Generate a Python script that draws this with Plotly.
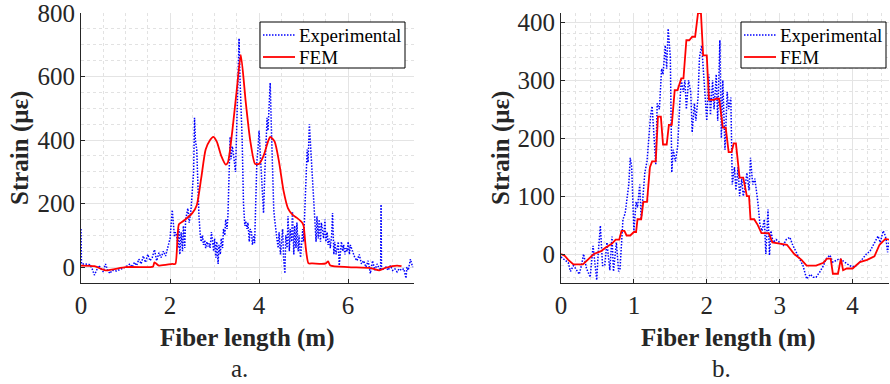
import plotly.graph_objects as go

# ---------------- Panel a ----------------
exp_a_x = [0.00, 0.01, 0.10, 0.20, 0.25, 0.30, 0.35, 0.40, 0.45, 0.50, 0.55, 0.60, 0.65, 0.70, 0.80, 0.90,
           1.00, 1.10, 1.15, 1.20, 1.25, 1.30, 1.35, 1.40, 1.45, 1.50, 1.55, 1.60, 1.65, 1.70, 1.75, 1.80,
           1.85, 1.90, 1.95, 2.00, 2.05, 2.08, 2.10, 2.12, 2.15, 2.18, 2.20, 2.22, 2.25, 2.28, 2.30, 2.33,
           2.35, 2.40, 2.43, 2.47, 2.50, 2.53, 2.55, 2.57, 2.60, 2.62, 2.65, 2.68, 2.70, 2.73, 2.75, 2.78,
           2.80, 2.83, 2.85, 2.88, 2.90, 2.93, 2.95, 2.98, 3.00, 3.03, 3.05, 3.08, 3.10, 3.13, 3.15, 3.18,
           3.20, 3.23, 3.25, 3.28, 3.30, 3.33, 3.35, 3.37, 3.40, 3.43, 3.45, 3.47, 3.50, 3.53, 3.55, 3.57,
           3.60, 3.62, 3.65, 3.68, 3.70, 3.73, 3.75, 3.78, 3.80, 3.83, 3.85, 3.88, 3.90, 3.93, 3.95, 3.98,
           4.00, 4.03, 4.05, 4.08, 4.10, 4.13, 4.15, 4.18, 4.20, 4.23, 4.25, 4.28, 4.30, 4.33, 4.35, 4.38,
           4.40, 4.43, 4.45, 4.48, 4.50, 4.53, 4.55, 4.58, 4.60, 4.63, 4.65, 4.68, 4.70, 4.73, 4.75, 4.78,
           4.80, 4.83, 4.85, 4.88, 4.90, 4.93, 4.95, 4.98, 5.00, 5.03, 5.05, 5.08, 5.10, 5.13, 5.15, 5.18,
           5.20, 5.23, 5.25, 5.28, 5.30, 5.33, 5.35, 5.38, 5.40, 5.43, 5.45, 5.48, 5.50, 5.53, 5.55, 5.58,
           5.60, 5.63, 5.65, 5.68, 5.70, 5.73, 5.75, 5.78, 5.80, 5.83, 5.85, 5.88, 5.90, 5.93, 5.95, 5.98,
           6.00, 6.03, 6.05, 6.10, 6.15, 6.20, 6.25, 6.30, 6.35, 6.40, 6.45, 6.50, 6.55, 6.60, 6.65, 6.70,
           6.73, 6.74, 6.75, 6.80, 6.85, 6.90, 6.95, 7.00, 7.05, 7.10, 7.15, 7.20, 7.25, 7.30, 7.32, 7.35,
           7.40, 7.45]
exp_a_y = [120, 10, 10, 8, -5, -25, -10, 5, -5, -15, 10, -10, -20, -10, -12, -5,
           0, 10, 0, 15, 5, 25, 10, 35, 15, 40, 20, 30, 55, 20, 45, 30,
           50, 35, 65, 90, 180, 120, 95, 110, 100, 60, 120, 40, 110, 50, 130, 60,
           150, 185, 140, 180, 240, 300, 470, 400, 370, 280, 160, 100, 80, 100, 70, 85,
           60, 80, 65, 75, 60, 110, 80, 50, 90, 30, 80, 10, 70, 40, 90, 60,
           120, 100, 150, 120, 160, 300, 410, 340, 380, 350, 330, 300, 450, 650, 720, 600,
           500, 400, 200, 130, 145, 120, 140, 80, 120, 110, 70, 100, 75, 250, 330, 380,
           430, 350, 300, 200, 170, 300, 400, 470, 430, 550, 580, 420, 300, 180, 150, 100,
           90, 60, 110, 40, 80, 120, 30, -20, 100, 60, 160, 50, 120, 80, 175, 40,
           130, 60, 140, 50, 100, 30, 60, 120, 80, 200, 280, 370, 330, 450, 400, 320,
           250, 200, 120, 80, 160, 90, 150, 80, 140, 100, 90, 150, 80, 110, 70, 90,
           60, 100, 170, 40, 80, 40, 60, 80, 5, 60, 80, 50, 70, 40, 60, 50,
           80, 40, 70, 50, 30, 20, 40, 10, 20, 0, 20, -20, 20, -10, 10, -5,
           -10, 197, -10, -5, 0, -10, 5, -10, -5, -15, -5, -10, -5, -35, 0, -10,
           25, 0]

fem_a_x = [0.00, 0.30, 0.55, 1.00, 1.55, 1.62, 1.65, 1.75, 2.05, 2.12, 2.20, 2.30, 2.50, 2.60, 2.70, 2.80,
           2.90, 2.97, 3.05, 3.15, 3.25, 3.30, 3.40, 3.50, 3.59, 3.70, 3.80, 3.91, 4.00, 4.10, 4.20, 4.25,
           4.35, 4.45, 4.55, 4.65, 4.75, 4.85, 4.97, 5.00, 5.05, 5.11, 5.20, 5.40, 5.50, 5.55, 5.60, 6.00,
           6.50, 6.70, 6.85, 7.10, 7.20]
fem_a_y = [5, 3, -10, 0, 0, 2, 15, 5, 10, 10, 135, 145, 170, 195, 280, 370,
           400, 410, 395, 350, 323, 330, 430, 560, 668, 520, 400, 325, 325, 350, 395, 410,
           395, 330, 240, 185, 165, 155, 140, 130, 60, 12, 12, 10, 12, 18, 5, 0,
           -3, -10, -2, 5, 3]

# ---------------- Panel b ----------------
exp_b_x = [0.00, 0.05, 0.10, 0.13, 0.17, 0.20, 0.25, 0.28, 0.31, 0.35, 0.40, 0.44, 0.46, 0.49, 0.51, 0.54,
           0.57, 0.60, 0.63, 0.67, 0.70, 0.72, 0.76, 0.79, 0.81, 0.83, 0.85, 0.88, 0.90, 0.93, 0.95, 0.97,
           1.00, 1.03, 1.05, 1.08, 1.10, 1.13, 1.15, 1.18, 1.20, 1.23, 1.25, 1.28, 1.30, 1.32, 1.35, 1.38,
           1.40, 1.43, 1.45, 1.47, 1.50, 1.52, 1.54, 1.57, 1.60, 1.63, 1.65, 1.68, 1.70, 1.72, 1.75, 1.78,
           1.80, 1.83, 1.85, 1.88, 1.90, 1.93, 1.95, 1.98, 2.00, 2.03, 2.05, 2.08, 2.10, 2.13, 2.15, 2.18,
           2.20, 2.22, 2.25, 2.28, 2.30, 2.33, 2.35, 2.38, 2.40, 2.43, 2.45, 2.48, 2.50, 2.52, 2.55, 2.58,
           2.60, 2.63, 2.66, 2.70, 2.73, 2.76, 2.79, 2.81, 2.84, 2.86, 2.88, 2.91, 2.95, 3.00, 3.05, 3.09,
           3.14, 3.18, 3.23, 3.28, 3.32, 3.37, 3.42, 3.46, 3.50, 3.55, 3.60, 3.64, 3.69, 3.73, 3.78, 3.82,
           3.87, 3.91, 3.96, 4.00, 4.05, 4.10, 4.15, 4.19, 4.24, 4.28, 4.32, 4.35, 4.38, 4.42, 4.44, 4.46,
           4.48, 4.50]
exp_b_y = [-5, -10, -15, -30, -20, -25, -35, -20, 0, -25, -40, 14, -10, -45, 0, 49,
           -20, -20, 20, -28, 30, -30, 20, -30, -25, 30, 60, 70, 90, 120, 166, 150,
           40, 90, 80, 120, 60, 100, 140, 160, 200, 240, 255, 180, 155, 260, 250, 320,
           310, 360, 320, 389, 340, 141, 180, 160, 185, 260, 300, 280, 300, 250, 300, 280,
           210, 260, 230, 270, 340, 360, 320, 280, 230, 310, 240, 300, 250, 310, 230, 369,
           200, 300, 180, 280, 250, 270, 120, 150, 110, 150, 100, 130, 100, 110, 140, 110,
           166, 120, 130, 90, 50, 40, 60, 0, 77, -2, 40, 20, 25, 20, 15, 25,
           29, 15, 3, -10, -20, -43, -35, -40, -40, -31, -20, -8, -2, -14, -10, -8,
           -12, -16, -20, -22, -20, -14, -5, 0, 5, 14, 25, 31, 20, 40, 35, 26,
           3, 20]

fem_b_x = [0.00, 0.05, 0.10, 0.17, 0.30, 0.35, 0.42, 0.45, 0.55, 0.60, 0.70, 0.75, 0.80, 0.83, 0.87, 0.90,
           0.95, 1.00, 1.03, 1.05, 1.10, 1.13, 1.18, 1.20, 1.22, 1.25, 1.30, 1.33, 1.37, 1.40, 1.45, 1.48,
           1.52, 1.56, 1.60, 1.65, 1.68, 1.72, 1.76, 1.80, 1.84, 1.88, 1.92, 1.95, 2.00, 2.03, 2.10, 2.13,
           2.17, 2.22, 2.26, 2.30, 2.34, 2.37, 2.40, 2.45, 2.50, 2.55, 2.58, 2.60, 2.65, 2.70, 2.75, 2.85,
           2.90, 3.00, 3.10, 3.20, 3.30, 3.37, 3.50, 3.60, 3.65, 3.70, 3.73, 3.80, 3.84, 3.87, 3.92, 4.00,
           4.10, 4.20, 4.30, 4.37, 4.45, 4.50]
fem_b_y = [0, -3, -10, -18, -18, -12, -5, 0, 5, 10, 18, 25, 25, 40, 40, 32,
           32, 38, 38, 60, 60, 90, 90, 120, 150, 160, 160, 237, 237, 189, 189, 223,
           223, 283, 283, 303, 303, 369, 369, 375, 375, 416, 416, 343, 343, 266, 266, 268,
           268, 218, 218, 176, 176, 191, 191, 132, 132, 100, 100, 60, 60, 50, 36, 36,
           20, 18, 16, 0, -10, -20, -20, -15, -8, -8, -34, -34, -8, -28, -25, -25,
           -14, -10, -4, 16, 26, 25]

series_names = ["Experimental", "FEM"]

BLUE = "#0000FF"
RED = "#FF0000"
DARK = "#262626"
SERIF = "Liberation Serif"
DOT = "1.5px,1.5px"
W, H = 890, 384

fig = go.Figure()
fig.add_trace(go.Scatter(x=exp_a_x, y=exp_a_y, mode="lines", name=series_names[0],
                         line=dict(color=BLUE, width=1.5, dash=DOT), xaxis="x", yaxis="y"))
fig.add_trace(go.Scatter(x=fem_a_x, y=fem_a_y, mode="lines", name=series_names[1], line_shape="spline",
                         line=dict(color=RED, width=1.8, smoothing=0.6), xaxis="x", yaxis="y"))
fig.add_trace(go.Scatter(x=exp_b_x, y=exp_b_y, mode="lines", name=series_names[0],
                         line=dict(color=BLUE, width=1.5, dash=DOT), xaxis="x2", yaxis="y2"))
fig.add_trace(go.Scatter(x=fem_b_x, y=fem_b_y, mode="lines", name=series_names[1],
                         line=dict(color=RED, width=1.8), xaxis="x2", yaxis="y2"))

def axis(domain, rng, dtick, minor_dtick, anchor):
    return dict(domain=domain, range=rng, dtick=dtick, tick0=0, anchor=anchor, automargin=False,
                ticklabeloverflow="allow",
                showline=True, linecolor=DARK, linewidth=1.2, mirror=False,
                ticks="inside", ticklen=4, tickcolor=DARK,
                showgrid=True, gridcolor="#E4E4E4", gridwidth=1,
                zeroline=False,
                minor=dict(dtick=minor_dtick, tick0=0, showgrid=True, gridcolor="#E2E2E2",
                           griddash="dot", gridwidth=1, ticks=""),
                tickfont=dict(family=SERIF, size=25, color=DARK))

ydom = [1 - 283 / H, 1 - 13 / H]
fig.update_layout(
    width=W, height=H,
    margin=dict(l=0, r=0, t=0, b=0),
    paper_bgcolor="white", plot_bgcolor="white",
    xaxis=axis([81 / W, 414 / W], [0, 7.48], 2, 0.5, "y"),
    yaxis=axis(ydom, [-50, 800], 200, 50, "x"),
    xaxis2=axis([561 / W, 889 / W], [0, 4.5], 1, 0.2, "y2"),
    yaxis2=axis(ydom, [-50, 416], 100, 20, "x2"),
    showlegend=False,
)

# Legend boxes (drawn to match MATLAB legend geometry)
shapes = []
ann = []
for lx in (260, 741):
    shapes.append(dict(type="rect", xref="paper", yref="paper",
                       x0=lx / W, x1=(lx + 145) / W, y0=1 - 68 / H, y1=1 - 22 / H,
                       line=dict(color="#000000", width=1), fillcolor="white", layer="above"))
    for name, yy, col, dash in ((series_names[0], 35, BLUE, DOT), (series_names[1], 57, RED, "solid")):
        shapes.append(dict(type="line", xref="paper", yref="paper",
                           x0=(lx + 3) / W, x1=(lx + 35) / W, y0=1 - yy / H, y1=1 - yy / H,
                           line=dict(color=col, width=1.5 if dash == DOT else 1.8, dash=dash), layer="above"))
        ann.append(dict(text=name, x=(lx + 37) / W, y=1 - yy / H, xref="paper", yref="paper",
                        showarrow=False, xanchor="left", yanchor="middle",
                        font=dict(family=SERIF, size=19, color="#000000")))

for cx in (248, 728):
    ann.append(dict(text="<b>Fiber length (m)</b>", x=cx / W, y=1 - 338 / H, xref="paper", yref="paper",
                    showarrow=False, xanchor="center", yanchor="middle",
                    font=dict(family=SERIF, size=25, color=DARK)))
for cx in (20, 501):
    ann.append(dict(text="<b>Strain (με)</b>", x=cx / W, y=1 - 148 / H, xref="paper", yref="paper",
                    showarrow=False, xanchor="center", yanchor="middle", textangle=-90,
                    font=dict(family=SERIF, size=25, color=DARK)))
for cx, lab in ((239, "a."), (721, "b.")):
    ann.append(dict(text=lab, x=cx / W, y=1 - 368 / H, xref="paper", yref="paper",
                    showarrow=False, xanchor="center", yanchor="middle",
                    font=dict(family=SERIF, size=25, color=DARK)))
fig.update_layout(annotations=ann, shapes=shapes)

fig.write_html("out.html")
